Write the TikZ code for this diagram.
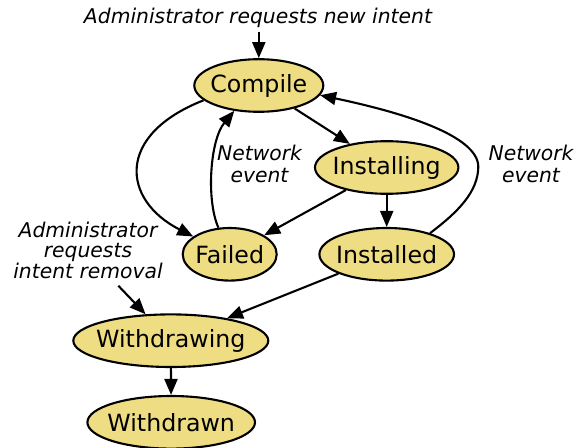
\documentclass[tikz,border=0pt]{standalone}
\usepackage{fontspec}
\setmainfont{DejaVu Sans}
\usetikzlibrary{shapes.geometric,arrows.meta}
\definecolor{nodefill}{HTML}{EEDD82}
\newcommand{\ntext}[1]{\makebox[0pt]{#1}}
\begin{document}
\begin{tikzpicture}[x=0.5pt,y=-0.5pt,
  state/.style={ellipse, draw=black, line width=1.05pt, fill=nodefill, inner sep=0pt,
    minimum height=26.3pt, font=\fontsize{11.85}{14}\selectfont},
  lbl/.style={inner sep=0pt, align=center, font=\fontsize{10.15}{10.85}\selectfont\itshape},
  lblb/.style={inner sep=0pt, align=center, font=\fontsize{10.15}{10.3}\selectfont\itshape},
  arr/.style={line width=1.05pt, -{Triangle[length=8pt,width=6.5pt]}}]
\useasboundingbox (0,0) rectangle (587,448);
% states
\node[state, minimum width=64.5pt] (comp) at (258.8,85.5) {\ntext{Compile}};
\node[state, minimum width=71.7pt] (inst) at (386.7,167.5) {\ntext{Installing}};
\node[state, minimum width=47pt] (fail) at (229.7,254.3) {\ntext{Failed}};
\node[state, minimum width=67.3pt] (instd) at (386.7,254.3) {\ntext{Installed}};
\node[state, minimum width=97.5pt] (wing) at (170.8,340.7) {\ntext{Withdrawing}};
\node[state, minimum width=83.8pt] (wdn) at (171.2,422.3) {\ntext{Withdrawn}};
% labels
\node[lbl] (newlab) at (258,18) {Administrator requests new intent};
\node[lbl] (netl) at (259.5,164.2) {Network\\event};
\node[lbl] (netr) at (531,164.2) {Network\\event};
\node[lblb] (remlab) at (88,250.2) {Administrator\\requests\\intent removal};
\coordinate (t0) at (258.8,31.7);
\coordinate (r0) at (118.3,285.7);
% edges
\draw[arr] (t0) -- (comp);
\draw[arr] (comp) -- (inst);
\draw[arr] (comp.195) .. controls (115,135) and (122,200) .. (fail.154);
\draw[arr] (fail.113) .. controls (206,200) and (210,140) .. (comp.226);
\draw[arr] (inst) -- (fail);
\draw[arr] (inst) -- (instd);
\draw[arr] (instd.26) .. controls (458,212) and (478,192) .. (478.3,166.7)
  .. controls (478,135) and (400,112) .. (comp.-9);
\draw[arr] (instd) -- (wing);
\draw[arr] (r0) -- (wing);
\draw[arr] (wing) -- (wdn);
\end{tikzpicture}
\end{document}
